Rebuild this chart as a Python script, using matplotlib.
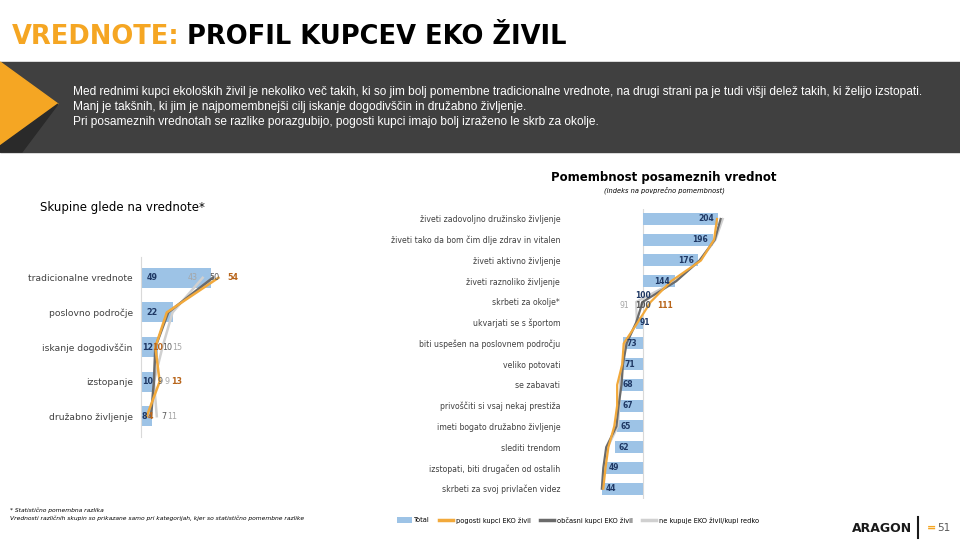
import matplotlib
matplotlib.use("Agg")
import matplotlib.pyplot as plt
from matplotlib.patches import Polygon, Rectangle, Patch
from matplotlib.lines import Line2D
import numpy as np

plt.rcParams['font.family'] = ['DejaVu Sans']

# ---------------- data ----------------
left_categories = ["tradicionalne vrednote", "poslovno področje", "iskanje dogodivščin",
                   "izstopanje", "družabno življenje"]
left_total = [49, 22, 12, 10, 8]
left_pogosti = [54, 18, 10, 13, 4]
left_obcasni = [50, 19, 10, 9, 7]
left_ne = [43, 22, 15, 9, 11]
# rows where group values are labelled (statistically significant)
left_labelled_rows = [0, 2, 3, 4]

right_categories = ["živeti zadovoljno družinsko življenje",
                    "živeti tako da bom čim dlje zdrav in vitalen",
                    "živeti aktivno življenje",
                    "živeti raznoliko življenje",
                    "skrbeti za okolje*",
                    "ukvarjati se s športom",
                    "biti uspešen na poslovnem področju",
                    "veliko potovati",
                    "se zabavati",
                    "privoščiti si vsaj nekaj prestiža",
                    "imeti bogato družabno življenje",
                    "slediti trendom",
                    "izstopati, biti drugačen od ostalih",
                    "skrbeti za svoj privlačen videz"]
right_total = [204, 196, 176, 144, 100, 91, 73, 71, 68, 67, 65, 62, 49, 44]
right_pogosti = [202, 198, 180, 139, 111, 93, 74, 72, 65, 65, 61, 53, 49, 46]
right_obcasni = [207, 199, 178, 146, 100, 91, 78, 73, 71, 67, 64, 50, 46, 44]
right_ne = [210, 200, 179, 145, 91, 92, 76, 72, 69, 68, 66, 52, 48, 45]
right_baseline = 100
right_labelled_row = 4

legend_labels = ["Total", "pogosti kupci EKO živil", "občasni kupci EKO živil",
                 "ne kupuje EKO živil/kupi redko"]

# ---------------- styles ----------------
C_BAR = "#9DC3E6"
C_OR = "#F2A93B"
C_DK = "#6B6B6B"
C_LT = "#D0D0D0"
C_TOT_LBL = "#1F3864"
C_OR_LBL = "#B8651B"
C_DK_LBL = "#595959"
C_LT_LBL = "#A6A6A6"
C_TXT = "#404040"

W, H = 960, 540
fig = plt.figure(figsize=(9.6, 5.4), dpi=100)


def fx(x):
    return x / W


def fy(y):
    return 1 - y / H


# ---------------- header ----------------
fig.text(fx(12), fy(37), "VREDNOTE:", color="#F5A623", fontsize=18.5, fontweight="bold",
         va="center", ha="left")
fig.text(fx(187), fy(37), "PROFIL KUPCEV EKO ŽIVIL", color="black", fontsize=18.5,
         fontweight="bold", va="center", ha="left")

bg = fig.add_axes([0, 0, 1, 1], zorder=-1)
bg.set_xlim(0, W)
bg.set_ylim(H, 0)
bg.axis("off")
bg.add_patch(Rectangle((0, 62), W, 90, color="#404040"))
bg.add_patch(Polygon([(0, 62), (58, 104), (0, 146)], closed=True, color="#F5A623"))
bg.add_patch(Polygon([(58, 104), (0, 146), (0, 152), (22, 152)], closed=True, color="#2A2A2A"))

band_lines = [
    "Med rednimi kupci ekoloških živil je nekoliko več takih, ki so jim bolj pomembne tradicionalne vrednote, na drugi strani pa je tudi višji delež takih, ki želijo izstopati.",
    "Manj je takšnih, ki jim je najpomembnejši cilj iskanje dogodivščin in družabno življenje.",
    "Pri posameznih vrednotah se razlike porazgubijo, pogosti kupci imajo bolj izraženo le skrb za okolje.",
]
for i, t in enumerate(band_lines):
    fig.text(fx(73), fy(92 + i * 15), t, color="white", fontsize=8.6, va="center", ha="left",
             family="Liberation Sans")

# ---------------- left chart ----------------
fig.text(fx(40), fy(208), "Skupine glede na vrednote*", fontsize=8.5, color="black",
         va="center", ha="left")

axL = fig.add_axes([fx(141), fy(437), fx(240) - fx(141), (437 - 257) / H])
yL = np.arange(len(left_categories))
axL.barh(yL, left_total, height=0.58, color=C_BAR, zorder=1)
axL.plot(left_ne, yL, color=C_LT, lw=1.8, zorder=2, solid_joinstyle="round")
axL.plot(left_obcasni, yL, color=C_DK, lw=1.8, zorder=3, solid_joinstyle="round")
axL.plot(left_pogosti, yL, color=C_OR, lw=1.8, zorder=4, solid_joinstyle="round")
axL.set_xlim(0, 69)
axL.set_ylim(len(left_categories) - 0.4, -0.6)
axL.set_yticks(yL)
axL.set_yticklabels(left_categories, fontsize=6.6, color=C_TXT)
axL.tick_params(axis="y", length=0, pad=6)
axL.set_xticks([])
for s in ["top", "right", "bottom"]:
    axL.spines[s].set_visible(False)
axL.spines["left"].set_color("#D9D9D9")
axL.patch.set_alpha(0)

for i, v in enumerate(left_total):
    axL.text(4 if v > 15 else 0.5, i, f"{v}", color=C_TOT_LBL, fontsize=5.8, fontweight="bold",
             va="center", ha="left", zorder=6)

# label x positions (layout only) for labelled rows: (orange, dark, light)
left_lbl_pos = {0: (64, 51, 36), 2: (11.5, 18.5, 25.5), 3: (25, 13, 18.5), 4: (6.3, 16, 22)}
for r in left_labelled_rows:
    xo, xd, xl = left_lbl_pos[r]
    axL.text(xo, r, f"{left_pogosti[r]}", color=C_OR_LBL, fontsize=5.8, fontweight="bold",
             va="center", ha="center", zorder=6)
    axL.text(xd, r, f"{left_obcasni[r]}", color=C_DK_LBL, fontsize=5.8,
             va="center", ha="center", zorder=6)
    axL.text(xl, r, f"{left_ne[r]}", color=C_LT_LBL, fontsize=5.8,
             va="center", ha="center", zorder=6)

# ---------------- right chart ----------------
fig.text(fx(664), fy(178), "Pomembnost posameznih vrednot", fontsize=8.5, fontweight="bold",
         color="black", va="center", ha="center")
fig.text(fx(664), fy(190), "(indeks na povprečno pomembnost)", fontsize=4.8, style="italic",
         color="black", va="center", ha="center")

axR = fig.add_axes([fx(588), fy(499), fx(725) - fx(588), (499 - 208.6) / H])
yR = np.arange(len(right_categories))
axR.barh(yR, np.array(right_total) - right_baseline, left=right_baseline, height=0.58,
         color=C_BAR, zorder=1)
axR.axvline(right_baseline, color="#D9D9D9", lw=0.8, zorder=0)
axR.plot(right_ne, yR, color=C_LT, lw=1.6, zorder=2, solid_joinstyle="round")
axR.plot(right_obcasni, yR, color=C_DK, lw=1.6, zorder=3, solid_joinstyle="round")
axR.plot(right_pogosti, yR, color=C_OR, lw=1.6, zorder=4, solid_joinstyle="round")
axR.set_xlim(25, 213)
axR.set_ylim(len(right_categories) - 0.5, -0.5)
axR.set_yticks(yR)
axR.set_yticklabels(right_categories, fontsize=5.6, color=C_TXT)
axR.tick_params(axis="y", length=0, pad=20)
axR.set_xticks([])
for s in axR.spines.values():
    s.set_visible(False)
axR.patch.set_alpha(0)

for i, v in enumerate(right_total):
    if i == right_labelled_row:
        axR.text(v, i - 0.3, f"{v}", color=C_TOT_LBL, fontsize=5.5, fontweight="bold",
                 va="center", ha="center", zorder=6)
        axR.text(v, i + 0.15, f"{right_obcasni[i]}", color=C_DK_LBL, fontsize=5.5,
                 fontweight="bold", va="center", ha="center", zorder=6)
        axR.text(v - 25, i + 0.15, f"{right_ne[i]}", color=C_LT_LBL, fontsize=5.5,
                 va="center", ha="center", zorder=6)
        axR.text(v + 31, i + 0.15, f"{right_pogosti[i]}", color=C_OR_LBL, fontsize=5.5,
                 fontweight="bold", va="center", ha="center", zorder=6)
        continue
    xpos = v - 17 if v > right_baseline else v + 12
    axR.text(xpos, i, f"{v}", color=C_TOT_LBL, fontsize=5.5, fontweight="bold",
             va="center", ha="center", zorder=6)

# ---------------- footnotes & legend ----------------
fig.text(fx(10), fy(510), "* Statistično pomembna razlika", fontsize=4.3, style="italic",
         color="black", va="center", ha="left")
fig.text(fx(10), fy(518),
         "Vrednosti različnih skupin so prikazane samo pri kategorijah, kjer so statistično pomembne razlike",
         fontsize=4.3, style="italic", color="black", va="center", ha="left")

handles = [Patch(facecolor=C_BAR, edgecolor="none"),
           Line2D([0], [0], color=C_OR, lw=2.5),
           Line2D([0], [0], color=C_DK, lw=2.5),
           Line2D([0], [0], color=C_LT, lw=2.5)]
fig.legend(handles, legend_labels, loc="center", bbox_to_anchor=(fx(578), fy(520)), ncol=4,
           frameon=False, fontsize=4.8, handlelength=2.2, handleheight=0.9,
           columnspacing=1.3, handletextpad=0.4)

# ---------------- logo ----------------
fig.text(fx(852), fy(528), "ARAGON", fontsize=9, fontweight="bold", color="#1A1A1A",
         va="center", ha="left")
bg.plot([918, 918], [517, 538], color="#1A1A1A", lw=1.5)
fig.text(fx(927), fy(528), "=", fontsize=8, fontweight="bold", color="#F5A623",
         va="center", ha="left")
fig.text(fx(937), fy(528), "51", fontsize=7.5, color="#595959", va="center", ha="left")

fig.savefig("out.png", dpi=100)
